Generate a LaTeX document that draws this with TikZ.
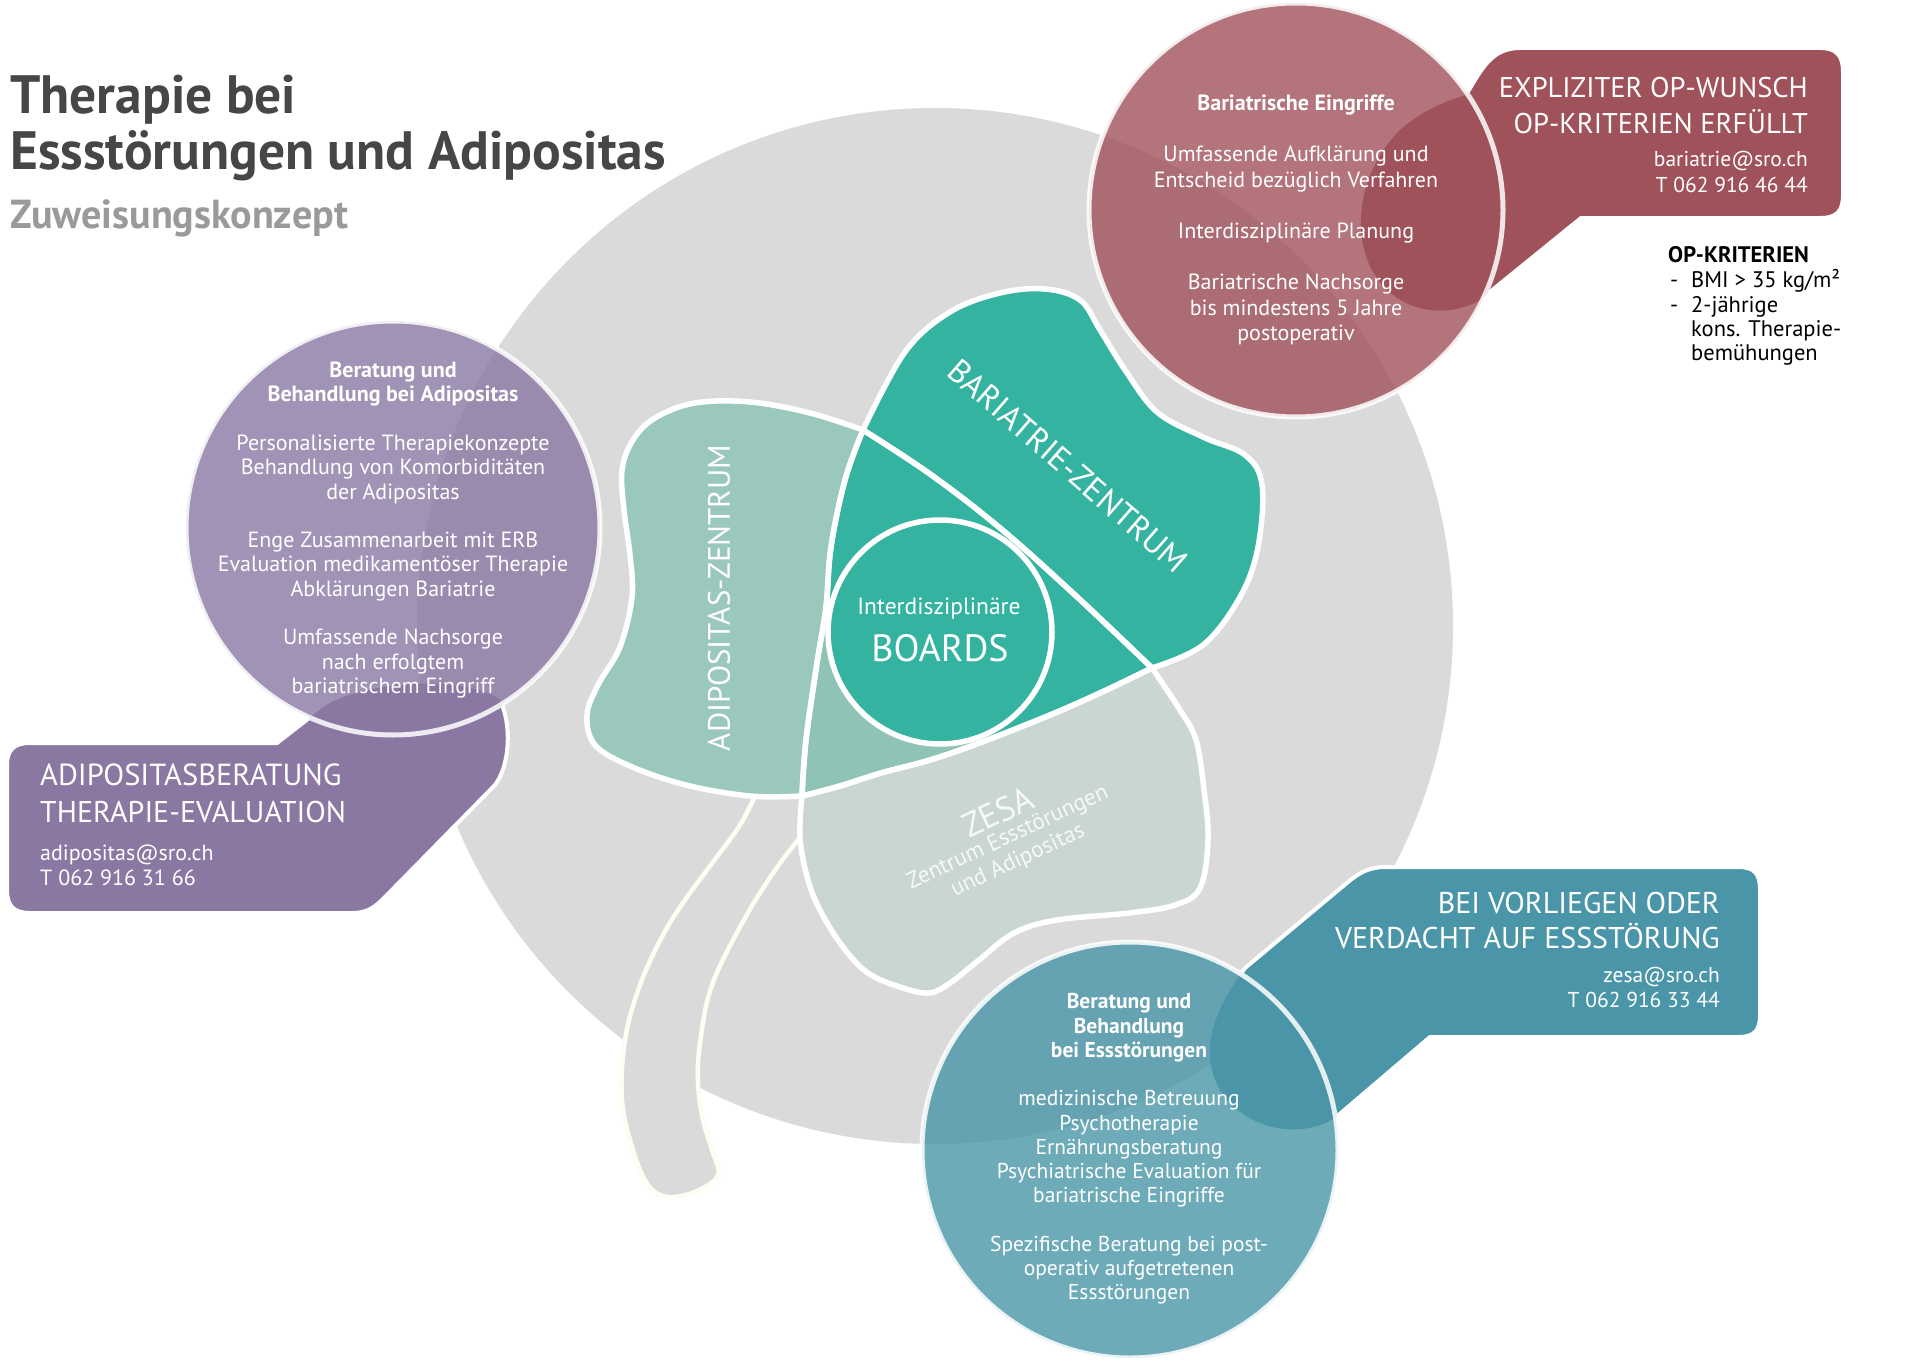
\documentclass[tikz,border=0pt]{standalone}
\usepackage{fontspec}
\setmainfont{PT Sans}
\newfontfamily\titlefont[FakeStretch=0.99]{PT Sans}
\definecolor{bggray}{HTML}{DADADA}
\definecolor{purp}{HTML}{8A78A3}
\definecolor{maro}{HTML}{A0525A}
\definecolor{tealb}{HTML}{4A96A8}
\definecolor{adip}{HTML}{9BC8BC}
\definecolor{bari}{HTML}{34B4A0}
\definecolor{zesa}{HTML}{CAD6D3}
\definecolor{mixl}{HTML}{8EC3B6}
\definecolor{titlec}{HTML}{464646}
\definecolor{subc}{HTML}{9A9A9A}
\definecolor{cream}{HTML}{FEFDF3}
% curve segments of the clover (each continues the current path)
\newcommand\ppLoneA{-- plot[smooth,tension=.6] coordinates {(863,430) (845,480) (831,547) (826,607) (817,663) (806,740) (802,796)}}
\newcommand\ppLoneAr{-- plot[smooth,tension=.6] coordinates {(802,796) (806,740) (817,663) (826,607) (831,547) (845,480) (863,430)}}
\newcommand\ppLtwor{-- plot[smooth,tension=.6] coordinates {(1152,668) (1075,595) (1000,528) (930,474) (863,430)}}
\newcommand\ppLthree{-- plot[smooth,tension=.6] coordinates {(1152,668) (1100,693) (1050,715) (982,742) (930,760) (881,773) (840,786) (802,796)}}
\newcommand\ppLthreer{-- plot[smooth,tension=.6] coordinates {(802,796) (840,786) (881,773) (930,760) (982,742) (1050,715) (1100,693) (1152,668)}}
\newcommand\ppBout{-- plot[smooth,tension=.6] coordinates {(863,430) (905,352) (950,312) (1000,293) (1045,289) (1080,300) (1100,330) (1125,370) (1157,412) (1203,437) (1245,455) (1262,485) (1258,547) (1240,597) (1203,645) (1152,668)}}
\newcommand\ppAout{-- plot[smooth,tension=.6] coordinates {(863,430) (810,413) (750,402) (695,403) (655,418) (633,440) (622,470) (624,510) (630,555) (632,597) (620,647) (598,685) (587,715) (595,745) (630,766) (686,785) (750,796) (802,796)}}
\newcommand\ppZout{-- plot[smooth,tension=.6] coordinates {(802,796) (800,838) (808,880) (821,912) (843,947) (868,973) (900,987) (929,993) (950,983) (979,960) (1014,933) (1057,920) (1129,913) (1175,905) (1200,888) (1208,840) (1204,790) (1196,740) (1180,710) (1152,668)}}
\newcommand\ppStem{-- plot[smooth,tension=.6] coordinates {(757,792) (740,825) (713,862) (685,900) (663,935) (640,985) (625,1040) (622,1100) (633,1150) (648,1185) (668,1197) (697,1191) (718,1175) (712,1150) (703,1120) (698,1083) (700,1043) (712,985) (745,918) (778,866) (808,828)}}
\newcommand\ppPurpCall{(7,765) .. controls (7,750) and (14,743) .. (30,743) -- (277,743) -- (322,708) .. controls (360,680) and (470,675) .. (500,700) .. controls (512,725) and (510,765) .. (495,785) -- (385,897) .. controls (375,907) and (368,913) .. (352,913) -- (30,913) .. controls (14,913) and (7,906) .. (7,890) -- cycle}
\newcommand\ppMaroCall{(1466,95) .. controls (1482,68) and (1492,48) .. (1520,48) -- (1820,48) .. controls (1836,48) and (1843,55) .. (1843,72) -- (1843,195) .. controls (1843,212) and (1836,218) .. (1820,218) -- (1581,218) -- (1480,300) .. controls (1450,318) and (1400,315) .. (1375,275) .. controls (1352,240) and (1355,175) .. (1400,130) .. controls (1425,108) and (1450,100) .. (1466,95) -- cycle}
\newcommand\ppTealCall{(1386,867) -- (1738,867) .. controls (1754,867) and (1760,873) .. (1760,890) -- (1760,1015) .. controls (1760,1031) and (1754,1037) .. (1738,1037) -- (1430,1037) -- (1335,1118) .. controls (1300,1140) and (1245,1130) .. (1220,1090) .. controls (1200,1055) and (1210,1015) .. (1245,968) -- (1348,882) .. controls (1360,872) and (1370,867) .. (1386,867) -- cycle}
\begin{document}
\begin{tikzpicture}[x=1pt,y=-1pt,
  leafline/.style={draw=white,line width=5.5pt,line join=round},
  callline/.style={draw=white,line width=4pt,line join=round},
  circline/.style={draw=white,draw opacity=0.85,line width=5pt},
  circfill/.style={fill opacity=0.8},
  circtxt/.style={text=white,align=center,inner sep=0pt},
  calltxt/.style={text=white,inner sep=0pt},
  leaftxt/.style={text=white,inner sep=0pt},
  optxt/.style={text=black,inner sep=0pt,anchor=base west,font=\fontsize{22.5}{26}\selectfont},
  titletxt/.style={inner sep=0pt,anchor=base west}]
\useasboundingbox (0,0) rectangle (1920,1362);
\fill[white] (0,0) rectangle (1920,1362);
% big gray circle
\fill[bggray] (935,626) circle[radius=518pt];
% stem
\fill[bggray] (757,792) \ppStem -- (820,790) -- (770,780) -- cycle;
\draw[cream,line width=4.5pt,line cap=round] (757,792) \ppStem;
% leaves
\fill[zesa] (863,430) \ppLoneA \ppZout \ppLtwor -- cycle;
\fill[adip] (863,430) \ppAout \ppLthreer \ppLtwor -- cycle;
\fill[bari] (863,430) \ppBout \ppLthree \ppLoneAr -- cycle;
\begin{scope}
  \clip (863,430) \ppLoneA \ppLthreer \ppLtwor -- cycle;
  \fill[mixl] (820,625) -- (988,746) -- (990,830) -- (760,830) -- (760,625) -- cycle;
\end{scope}
\path[leafline] (863,430) \ppLoneA \ppZout \ppLtwor -- cycle;
\path[leafline] (863,430) \ppAout \ppLthreer \ppLtwor -- cycle;
\path[leafline] (863,430) \ppBout \ppLthree \ppLoneAr -- cycle;
\draw[leafline,fill=bari] (940,632) circle[radius=112pt];
% callouts
\fill[purp] \ppPurpCall;
\fill[maro] \ppMaroCall;
\fill[tealb] \ppTealCall;
\begin{scope}[even odd rule]
  \clip (0,0) rectangle (1920,1362) (393,528) circle[radius=209pt];
  \path[callline] \ppPurpCall;
\end{scope}
\begin{scope}[even odd rule]
  \clip (0,0) rectangle (1920,1362) (1130,1150) circle[radius=210pt];
  \path[callline] \ppTealCall;
\end{scope}
\begin{scope}[even odd rule]
  \clip (0,0) rectangle (1920,1362) (1296,210) circle[radius=209pt];
  \path[callline] \ppMaroCall;
\end{scope}
% circles
\fill[purp,circfill] (393,528) circle[radius=207pt];
\draw[circline] (393,528) circle[radius=207pt];
\fill[maro,circfill] (1296,210) circle[radius=207pt];
\draw[circline] (1296,210) circle[radius=207pt];
\fill[tealb,circfill] (1130,1150) circle[radius=208pt];
\draw[circline] (1130,1150) circle[radius=208pt];
% title
\node[titletxt,text=titlec,font=\titlefont\bfseries\fontsize{54}{60}\selectfont] (t1) at (10,114) {Therapie bei};
\node[titletxt,text=titlec,font=\titlefont\bfseries\fontsize{54}{60}\selectfont] (t2) at (10,169) {Essstörungen und Adipositas};
\node[titletxt,text=subc,font=\titlefont\bfseries\fontsize{40.5}{46}\selectfont] (t3) at (10,228) {Zuweisungskonzept};
% circle texts
\node[circtxt,font=\fontsize{22}{24.3}\selectfont] (ptxt) at (393,530) {%
\textbf{Beratung und}\\
\textbf{Behandlung bei Adipositas}\\[24.3pt]
Personalisierte Therapiekonzepte\\
Behandlung von Komorbiditäten\\
der Adipositas\\[24.3pt]
Enge Zusammenarbeit mit ERB\\
Evaluation medikamentöser Therapie\\
Abklärungen Bariatrie\\[24.3pt]
Umfassende Nachsorge\\
nach erfolgtem\\
bariatrischem Eingriff};
\node[circtxt,font=\fontsize{22}{25.6}\selectfont] (mtxt) at (1296,220) {%
\textbf{Bariatrische Eingriffe}\\[25.6pt]
Umfassende Aufklärung und\\
Entscheid bezüglich Verfahren\\[25.6pt]
Interdisziplinäre Planung\\[25.6pt]
Bariatrische Nachsorge\\
bis mindestens 5 Jahre\\
postoperativ};
\node[circtxt,font=\fontsize{21.5}{24.25}\selectfont] (ttxt) at (1129,1149) {%
\textbf{Beratung und}\\
\textbf{Behandlung}\\
\textbf{bei Essstörungen}\\[24.25pt]
medizinische Betreuung\\
Psychotherapie\\
Ernährungsberatung\\
Psychiatrische Evaluation für\\
bariatrische Eingriffe\\[24.25pt]
Spezifische Beratung bei post-\\
operativ aufgetretenen\\
Essstörungen};
% callout texts
\node[calltxt,anchor=base west,font=\fontsize{30.5}{36}\selectfont] (ph1) at (40,785) {ADIPOSITASBERATUNG};
\node[calltxt,anchor=base west,font=\fontsize{30}{36}\selectfont] (ph2) at (40,822) {THERAPIE-EVALUATION};
\node[calltxt,anchor=base west,font=\fontsize{22}{26}\selectfont] (pe) at (40,860) {adipositas@sro.ch};
\node[calltxt,anchor=base west,font=\fontsize{22}{26}\selectfont] (pt) at (40,885) {T 062 916 31 66};
\node[calltxt,anchor=base east,font=\fontsize{28.5}{34}\selectfont] (mh1) at (1808,98) {EXPLIZITER OP-WUNSCH};
\node[calltxt,anchor=base east,font=\fontsize{28.5}{34}\selectfont] (mh2) at (1808,134) {OP-KRITERIEN ERFÜLLT};
\node[calltxt,anchor=base east,font=\fontsize{21.5}{26}\selectfont] (me) at (1808,167) {bariatrie@sro.ch};
\node[calltxt,anchor=base east,font=\fontsize{21.5}{26}\selectfont] (mt) at (1808,193) {T 062 916 46 44};
\node[calltxt,anchor=base east,font=\fontsize{30}{34}\selectfont] (th1) at (1720,913) {BEI VORLIEGEN ODER};
\node[calltxt,anchor=base east,font=\fontsize{30}{34}\selectfont] (th2) at (1720,948) {VERDACHT AUF ESSSTÖRUNG};
\node[calltxt,anchor=base east,font=\fontsize{21.5}{26}\selectfont] (te) at (1720,982) {zesa@sro.ch};
\node[calltxt,anchor=base east,font=\fontsize{21.5}{26}\selectfont] (tt) at (1720,1007) {T 062 916 33 44};
% OP criteria
\node[optxt,font=\bfseries\fontsize{22.5}{26}\selectfont] (oph) at (1668,262) {OP-KRITERIEN};
\node[optxt] (opd1) at (1670,287) {-};
\node[optxt] (op1) at (1691,287) {BMI > 35 kg/m²};
\node[optxt] (opd2) at (1670,312) {-};
\node[optxt] (op2) at (1691,312) {2-jährige};
\node[optxt] (op3) at (1691,336) {kons. Therapie-};
\node[optxt] (op4) at (1691,360) {bemühungen};
% leaf labels
\node[leaftxt,rotate=90,font=\fontsize{31}{36}\selectfont] (adl) at (719,598) {ADIPOSITAS-ZENTRUM};
\node[leaftxt,rotate=-41,font=\fontsize{33}{38}\selectfont] (bal) at (1068,466) {BARIATRIE-ZENTRUM};
\node[leaftxt,font=\fontsize{23.5}{26}\selectfont] (ibl) at (939,609) {Interdisziplinäre};
\node[leaftxt,font=\fontsize{38}{44}\selectfont] (bol) at (940,648) {BOARDS};
\node[leaftxt,rotate=25,text opacity=0.85,font=\fontsize{34}{40}\selectfont] (zel) at (998,812) {ZESA};
\node[leaftxt,rotate=25,text opacity=0.85,font=\fontsize{23}{26}\selectfont] (zl1) at (1008,838) {Zentrum Essstörungen};
\node[leaftxt,rotate=25,text opacity=0.85,font=\fontsize{23}{26}\selectfont] (zl2) at (1018,861) {und Adipositas};
\end{tikzpicture}
\end{document}
